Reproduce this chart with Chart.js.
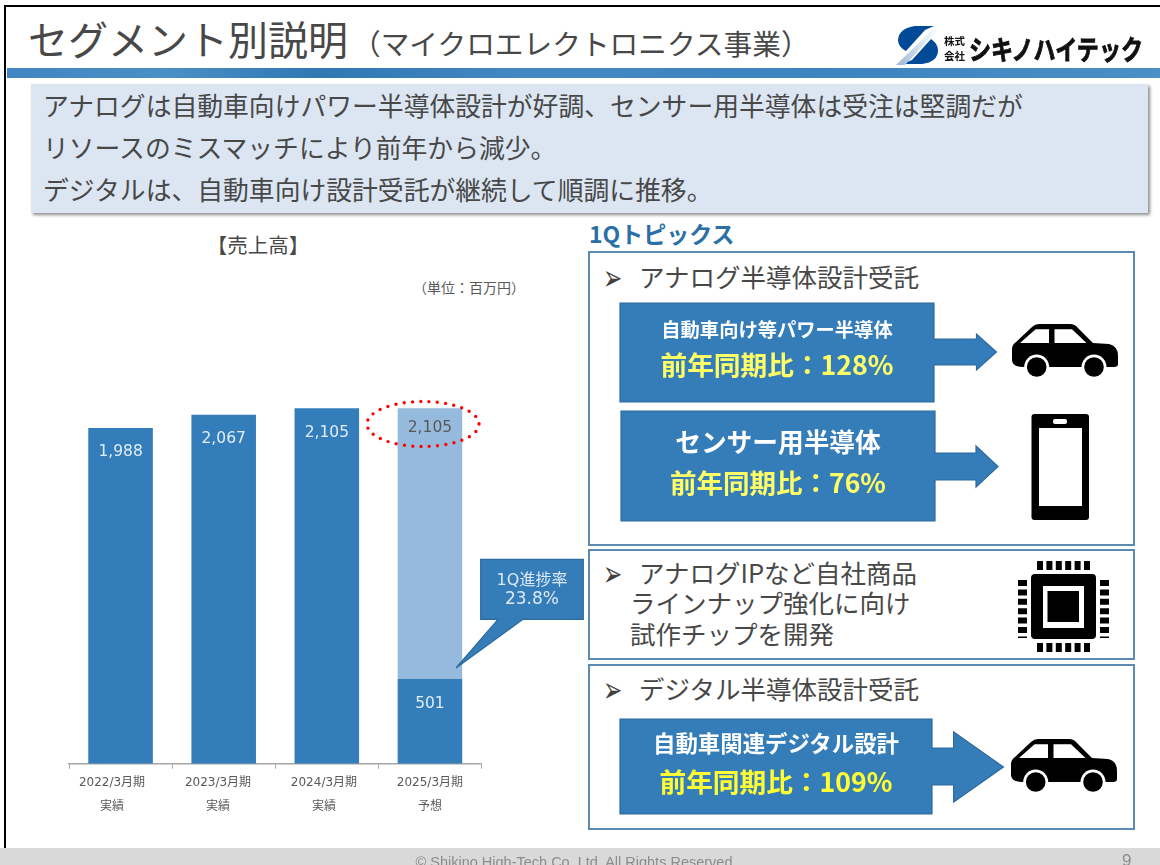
<!DOCTYPE html>
<html lang="ja"><head><meta charset="utf-8">
<script src="https://cdn.jsdelivr.net/npm/chart.js@4/dist/chart.umd.js"></script>
<style>
html,body{margin:0;padding:0;background:#fff;overflow:hidden}
#slide{position:relative;width:1160px;height:865px;overflow:hidden;font-family:"DejaVu Sans","Noto Sans CJK JP",sans-serif;color:#484848}
.t{position:absolute;white-space:nowrap;font-family:"Noto Sans CJK JP",sans-serif}
.c{transform:translateX(-50%)}
.abs{position:absolute;box-sizing:border-box}
.panel{position:absolute;box-sizing:border-box;border:2px solid #5b8ab2;background:#fff}
.bul{position:absolute;font-family:"DejaVu Sans";font-size:23px;line-height:30px;color:#404040;transform:scaleY(1.55);transform-origin:center}
#chartCanvas{position:absolute;left:0;top:0}
svg.over{position:absolute;left:0;top:0}
</style></head><body>
<div id="slide">
  <div class="abs" style="left:4px;top:5px;width:1156px;height:860px;border-left:2.5px solid #000;border-top:2.5px solid #000"></div>
  <div class="t" style="left:28px;top:9px;font-size:40px;line-height:58px">セグメント別説明</div>
  <div class="t" style="left:352px;top:23px;font-size:28.7px;line-height:40px">&#xFF08;マイクロエレクトロニクス事業&#xFF09;</div>
  <div class="abs" style="left:7px;top:68px;width:1153px;height:10px;background:linear-gradient(90deg,#3f86c2 0,#4a8fc6 14%,#2f78b4 27%,#4388c2 45%,#3c84c0 70%,#4a8fc6 100%)"></div>

  <div class="abs" style="left:31px;top:84px;width:1117px;height:129px;background:#dce6f2;box-shadow:2px 2px 3px rgba(0,0,0,.45)"></div>
  <div class="t" style="left:43px;top:84px;font-size:25.8px;line-height:42px">アナログは自動車向けパワー半導体設計が好調、センサー用半導体は受注は堅調だが</div>
  <div class="t" style="left:43px;top:126px;font-size:25.8px;line-height:42px">リソースのミスマッチにより前年から減少。</div>
  <div class="t" style="left:43px;top:168px;font-size:25.8px;line-height:42px">デジタルは、自動車向け設計受託が継続して順調に推移。</div>

  <div class="t c" style="left:258px;top:230px;font-size:20.5px;line-height:28px">【売上高】</div>
  <div class="t c" style="left:469px;top:277px;font-size:14px;line-height:20px;color:#595959">&#xFF08;単位&#xFF1A;百万円&#xFF09;</div>

  <canvas id="chartCanvas" width="500" height="830"></canvas>

  <div class="t" style="left:589px;top:217px;font-size:23px;line-height:32px;font-weight:700;color:#2a6fa5">1Qトピックス</div>

  <div class="panel" style="left:588px;top:251px;width:547px;height:295px"></div>
  <div class="panel" style="left:588px;top:549px;width:547px;height:111px"></div>
  <div class="panel" style="left:588px;top:664px;width:547px;height:166px"></div>

  <div class="bul" style="left:603px;top:263px">➢</div>
  <div class="t" style="left:639px;top:258px;font-size:25.5px;line-height:36px">アナログ半導体設計受託</div>
  <div class="bul" style="left:603px;top:559px">➢</div>
  <div class="t" style="left:639px;top:554px;font-size:25.5px;line-height:36px">アナログIPなど自社商品</div>
  <div class="t" style="left:630px;top:584px;font-size:25.5px;line-height:36px">ラインナップ強化に向け</div>
  <div class="t" style="left:630px;top:615px;font-size:25.5px;line-height:36px">試作チップを開発</div>
  <div class="bul" style="left:603px;top:675px">➢</div>
  <div class="t" style="left:639px;top:670px;font-size:25.5px;line-height:36px">デジタル半導体設計受託</div>

  <svg class="over" width="1160" height="865" viewBox="0 0 1160 865">
    <defs>
      <g id="car">
        <path d="M0 25 Q0 21 4 18 L20 3 Q23 0 27 0 L58 0 Q63 0 66 4 L81 19 L97 20 Q106 22 106 32 L106 40 Q106 43 102 43 L12 43 Q0 43 0 36 Z" fill="#000"/>
        <path d="M8 19 L23.6 5.3 L37 5.3 L37 19 Z M42.5 5.3 L60 5.3 L74.5 19 L42.5 19 Z" fill="#fff"/>
        <circle cx="24.7" cy="43" r="12.5" fill="#fff"/><circle cx="24.7" cy="43" r="9.8" fill="#000"/>
        <circle cx="82" cy="43" r="12.5" fill="#fff"/><circle cx="82" cy="43" r="9.8" fill="#000"/>
      </g>
      <linearGradient id="sl" x1="0" y1="1" x2="1" y2="0"><stop offset="0" stop-color="#9fb9d8"/><stop offset=".6" stop-color="#dfe9f3"/><stop offset="1" stop-color="#fff"/></linearGradient>
    </defs>

    <!-- logo -->
    <path d="M934 26 L915 26 Q899 28 898 40 Q898 47 906 51 L925 30 Z" fill="#004a97"/>
    <path d="M902 64 L922 64 Q938 62 938 50 Q938 44 931 39 L912 60 Z" fill="#004a97"/>
    <path d="M896 65 L936 26 L941 26 L905 65 Z" fill="url(#sl)"/>
    <text x="944" y="45" font-family="Noto Sans CJK JP" font-size="10.5" font-weight="700" fill="#111" textLength="21">株式</text>
    <text x="944" y="60" font-family="Noto Sans CJK JP" font-size="10.5" font-weight="700" fill="#111" textLength="21">会社</text>
    <text x="969" y="60" font-family="Noto Sans CJK JP" font-size="27" font-weight="700" fill="#111" stroke="#111" stroke-width=".9" textLength="174" lengthAdjust="spacingAndGlyphs">シキノハイテック</text>

    <!-- chart callouts -->
    <ellipse cx="423" cy="424" rx="56" ry="22.5" fill="none" stroke="#ff0000" stroke-width="3.4" stroke-linecap="round" stroke-dasharray="0 8.3"/>
    <path d="M480.7 559.3 H583.3 V619.3 H523 L456 668 L498 619.3 H480.7 Z" fill="#357db9" stroke="#2d6a9f" stroke-width="1.2"/>
    <text x="532" y="585" text-anchor="middle" font-family="DejaVu Sans,Noto Sans CJK JP" font-size="16" fill="#dce9f5">1Q進捗率</text>
    <text x="532" y="604" text-anchor="middle" font-family="DejaVu Sans,Noto Sans CJK JP" font-size="17" fill="#dce9f5">23.8%</text>

    <!-- blue boxes with arrows -->
    <g fill="#357db9" stroke="#2d6a9f" stroke-width="1.2">
      <path d="M620 303 H934 V339 H976.5 V334 L996.5 352 L976.5 370 V365 H934 V402 H620 Z"/>
      <path d="M621 411 H935 V453 H976 V446 L998 466.5 L976 487 V480 H935 V521 H621 Z"/>
      <path d="M620 719 H932 V748 H953.6 V732 L1003.5 767 L953.6 802 V785 H932 V814 H620 Z"/>
    </g>

    <!-- icons -->
    <use href="#car" x="1012" y="324"/>
    <use href="#car" x="1011" y="739"/>
    <rect x="1031.5" y="414" width="57.5" height="106" rx="3" fill="#000"/>
    <rect x="1039" y="428" width="43" height="78" fill="#fff"/>
    <rect x="1053" y="419" width="14" height="5" rx="2" fill="#fff"/>
    <rect x="1031" y="574" width="65" height="65" rx="4" fill="#000"/>
    <rect x="1043" y="586" width="41" height="42" fill="#fff"/>
    <rect x="1047.5" y="591" width="31.5" height="31" fill="#000"/>
    <g stroke="#000" stroke-width="9" stroke-dasharray="6 3.4" fill="none">
      <path d="M1037 565.5 H1091"/><path d="M1037 647.5 H1091"/>
      <path d="M1022.5 580 V638"/><path d="M1104.5 580 V638"/>
    </g>
  </svg>

  <div class="t c" style="left:777px;top:315px;font-size:19.3px;line-height:28px;font-weight:700;color:#fff">自動車向け等パワー半導体</div>
  <div class="t c" style="left:777px;top:346px;font-size:26.7px;line-height:36px;font-weight:700;color:#ffff66">前年同期比&#xFF1A;128%</div>
  <div class="t c" style="left:778px;top:423px;font-size:25.7px;line-height:36px;font-weight:700;color:#fff">センサー用半導体</div>
  <div class="t c" style="left:778px;top:464px;font-size:26.5px;line-height:36px;font-weight:700;color:#ffff66">前年同期比&#xFF1A;76%</div>
  <div class="t c" style="left:776px;top:726px;font-size:22.4px;line-height:32px;font-weight:700;color:#fff">自動車関連デジタル設計</div>
  <div class="t c" style="left:776px;top:763px;font-size:26.7px;line-height:36px;font-weight:700;color:#ffff33">前年同期比&#xFF1A;109%</div>

  <div class="abs" style="left:0;top:848px;width:1160px;height:17px;background:#d9d9d9"></div>
  <div class="t c" style="left:574px;top:852px;font-size:14.5px;line-height:20px;color:#8c8c8c;font-family:'Liberation Sans'">© Shikino High-Tech Co.,Ltd. All Rights Reserved</div>
  <div class="t" style="left:1122px;top:849px;font-size:17px;line-height:24px;color:#8c8c8c;font-family:'Liberation Sans'">9</div>
</div>
<script>
const categories = ['2022/3月期', '2023/3月期', '2024/3月期', '2025/3月期'];
const categoryNotes = ['実績', '実績', '実績', '予想'];
const salesOrProgress = [1988, 2067, 2105, 501];
const forecastRemainder = [null, null, null, 1604];

const SALES_BLUE = '#337dba', FORECAST_BLUE = '#95badd';

const valueLabels = {
  id: 'valueLabels',
  beforeDraw(chart) {
    // the reference's axis labels sit slightly wider apart than its bars
    const items = chart.scales.x.getLabelItems();
    if (!items.shifted) {
      items.forEach((it, i) => { it.options.translation[0] += (i - 3) * 2.85; });
      items.shifted = true;
    }
  },
  afterDatasetsDraw(chart) {
    const ctx = chart.ctx;
    ctx.save();
    ctx.font = '15.5px "DejaVu Sans"';
    ctx.textAlign = 'center';
    ctx.textBaseline = 'middle';
    chart.getDatasetMeta(0).data.forEach((bar, i) => {
      ctx.fillStyle = '#e3edf7';
      ctx.fillText(salesOrProgress[i].toLocaleString('en-US'), bar.x, bar.y + 24.5);
    });
    chart.getDatasetMeta(1).data.forEach((bar, i) => {
      if (forecastRemainder[i] == null) return;
      ctx.fillStyle = '#595959';
      ctx.fillText((salesOrProgress[i] + forecastRemainder[i]).toLocaleString('en-US'), bar.x, bar.y + 19.5);
    });
    ctx.restore();
  }
};

new Chart(document.getElementById('chartCanvas'), {
  type: 'bar',
  data: {
    labels: categories.map((c, i) => [c, categoryNotes[i]]),
    datasets: [
      { data: salesOrProgress, backgroundColor: SALES_BLUE, borderWidth: 0, barPercentage: 0.626, categoryPercentage: 1 },
      { data: forecastRemainder, backgroundColor: FORECAST_BLUE, borderWidth: 0, barPercentage: 0.626, categoryPercentage: 1 }
    ]
  },
  options: {
    responsive: false,
    animation: false,
    layout: { padding: { left: 69, right: 18.5, top: 341.5, bottom: 0 } },
    plugins: { legend: { display: false }, tooltip: { enabled: false }, title: { display: false } },
    scales: {
      x: {
        stacked: true,
        afterFit(scale) { scale.height = 66.3; },
        border: { color: '#a6a6a6', width: 1.5 },
        grid: { display: true, drawOnChartArea: false, drawTicks: true, tickLength: 5, color: '#a6a6a6', offset: true },
        ticks: { color: '#595959', font: { size: 12, family: '"DejaVu Sans","Noto Sans CJK JP"', lineHeight: 2 }, padding: 2.5, maxRotation: 0 }
      },
      y: { stacked: true, display: false, min: 0, max: 2500 }
    }
  },
  plugins: [valueLabels]
});
</script>
</body></html>
